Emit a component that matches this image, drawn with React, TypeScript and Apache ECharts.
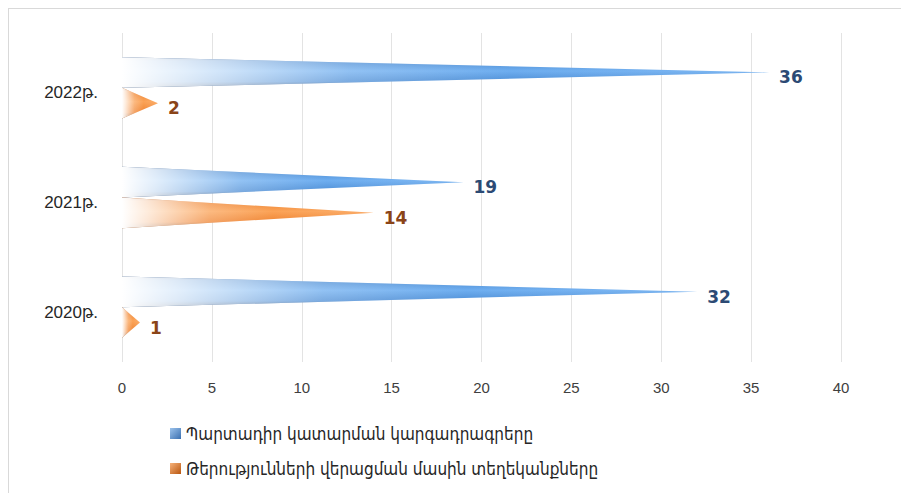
import React, { useEffect, useRef } from "react";
import * as echarts from "echarts";

const categories = ["2020թ.", "2021թ.", "2022թ."];
const seriesNames = [
  "Պարտադիր կատարման կարգադրագրերը",
  "Թերությունների վերացման մասին տեղեկանքները",
];
const blueValues = [32, 19, 36];
const orangeValues = [1, 14, 2];
const xTicks = { min: 0, max: 40, interval: 5 };

const blueBody = {
  type: "linear", x: 0, y: 0, x2: 0, y2: 1,
  colorStops: [
    { offset: 0, color: "#27497a" },
    { offset: 0.12, color: "#4b8bd2" },
    { offset: 0.45, color: "#6eaef0" },
    { offset: 0.8, color: "#4f8fd6" },
    { offset: 1, color: "#1e3d68" },
  ],
};
const orangeBody = {
  type: "linear", x: 0, y: 0, x2: 0, y2: 1,
  colorStops: [
    { offset: 0, color: "#a3480c" },
    { offset: 0.12, color: "#ee8432" },
    { offset: 0.45, color: "#fba357" },
    { offset: 0.8, color: "#ef8534" },
    { offset: 1, color: "#8a3c08" },
  ],
};
const baseFade = {
  type: "linear", x: 0, y: 0, x2: 1, y2: 0,
  colorStops: [
    { offset: 0, color: "rgba(255,255,255,1)" },
    { offset: 0.1, color: "rgba(255,255,255,0.8)" },
    { offset: 0.35, color: "rgba(255,255,255,0.25)" },
    { offset: 0.6, color: "rgba(255,255,255,0)" },
    { offset: 0.96, color: "rgba(255,255,255,0.1)" },
    { offset: 1, color: "rgba(255,255,255,0.3)" },
  ],
};

function makeRender(side: number, body: any, labelColor: string) {
  return (params: any, api: any) => {
    const c = api.value(0);
    const v = api.value(1);
    const base = api.coord([0, c]);
    const tip = api.coord([v, c]);
    const band = api.size([0, 1])[1];
    const h = band * 0.28;
    const cy = side < 0 ? base[1] - h / 2 : base[1] + h / 2;
    const x0 = base[0];
    const x1 = tip[0];
    const pts = [[x0, cy - h / 2], [x1, cy], [x0, cy + h / 2]];
    return {
      type: "group",
      children: [
        { type: "polygon", shape: { points: pts }, style: { fill: body } },
        { type: "polygon", shape: { points: pts }, style: { fill: baseFade } },
        {
          type: "text",
          x: x1 + 10,
          y: cy + 5,
          style: {
            text: String(v),
            fill: labelColor,
            font: "bold 17px 'DejaVu Sans'",
            verticalAlign: "middle",
            align: "left",
          },
        },
      ],
    };
  };
}

export default function App() {
  const ref = useRef<HTMLDivElement>(null);
  useEffect(() => {
    const chart = echarts.init(ref.current!, null, { renderer: "svg" });
    chart.setOption({
      animation: false,
      backgroundColor: "#ffffff",
      grid: { left: 113, right: 68, top: 24, bottom: 131 },
      legend: {
        orient: "vertical",
        left: 156,
        top: 409,
        itemWidth: 11,
        itemHeight: 11,
        itemGap: 14,
        icon: "rect",
        textStyle: {
          fontSize: 17,
          lineHeight: 21,
          color: "#262626",
          fontFamily: "'DejaVu Sans Condensed', 'DejaVu Sans'",
        },
        data: seriesNames,
      },
      xAxis: {
        type: "value",
        min: xTicks.min,
        max: xTicks.max,
        interval: xTicks.interval,
        axisLine: { show: false },
        axisTick: { show: false },
        axisLabel: {
          color: "#404040",
          fontSize: 15,
          margin: 18,
          fontFamily: "'Liberation Sans', 'DejaVu Sans'",
        },
        splitLine: { show: true, lineStyle: { color: "#e3e3e3", width: 1 } },
      },
      yAxis: {
        type: "category",
        data: categories,
        axisLine: { show: false },
        axisTick: { show: false },
        axisLabel: {
          margin: 24,
          formatter: (v: string) => "{a|" + v + "}",
          rich: {
            a: {
              color: "#262626",
              fontSize: 17,
              padding: [10, 0, 0, 0],
              fontFamily: "'Liberation Sans', 'DejaVu Sans Condensed', 'DejaVu Sans'",
            },
          },
        },
        splitLine: { show: false },
      },
      series: [
        {
          name: seriesNames[0],
          type: "custom",
          renderItem: makeRender(-1, blueBody, "#2c4a74"),
          itemStyle: {
            color: {
              type: "linear", x: 0, y: 0, x2: 1, y2: 1,
              colorStops: [
                { offset: 0, color: "#9cc3ec" },
                { offset: 1, color: "#3a6fb0" },
              ],
            },
          },
          encode: { x: 1, y: 0 },
          data: blueValues.map((v, i) => [i, v]),
        },
        {
          name: seriesNames[1],
          type: "custom",
          renderItem: makeRender(1, orangeBody, "#8a4418"),
          itemStyle: {
            color: {
              type: "linear", x: 0, y: 0, x2: 1, y2: 1,
              colorStops: [
                { offset: 0, color: "#f7b27a" },
                { offset: 1, color: "#b8560f" },
              ],
            },
          },
          encode: { x: 1, y: 0 },
          data: orangeValues.map((v, i) => [i, v]),
        },
      ],
    });
    return () => chart.dispose();
  }, []);
  return (
    <div
      style={{
        width: 901,
        height: 485,
        borderLeft: "1px solid #d9d9d9",
        borderTop: "1px solid #d9d9d9",
        boxSizing: "border-box",
        overflow: "hidden",
      }}
    >
      <div ref={ref} style={{ width: 900, height: 484 }} />
    </div>
  );
}
